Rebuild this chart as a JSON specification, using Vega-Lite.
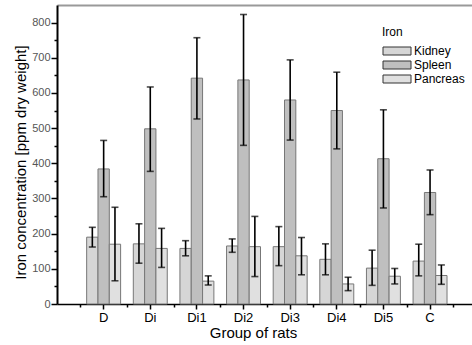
{
  "$schema": "https://vega.github.io/schema/vega-lite/v6.json",
  "width": 415,
  "height": 299,
  "autosize": {"type": "none"},
  "padding": {"left": 57, "top": 5, "right": 0, "bottom": 41},
  "background": "white",
  "config": {"view": {"stroke": null}, "font": "Liberation Sans", "axis": {"grid": false}},
  "data": {"values": [
    {"group": "D", "organ": "Kidney", "mean": 190, "lo": 162, "hi": 218},
    {"group": "D", "organ": "Spleen", "mean": 384, "lo": 305, "hi": 465},
    {"group": "D", "organ": "Pancreas", "mean": 170, "lo": 66, "hi": 275},
    {"group": "Di", "organ": "Kidney", "mean": 171, "lo": 116, "hi": 228},
    {"group": "Di", "organ": "Spleen", "mean": 498, "lo": 377, "hi": 617},
    {"group": "Di", "organ": "Pancreas", "mean": 158, "lo": 104, "hi": 215},
    {"group": "Di1", "organ": "Kidney", "mean": 158, "lo": 137, "hi": 180},
    {"group": "Di1", "organ": "Spleen", "mean": 642, "lo": 526, "hi": 757},
    {"group": "Di1", "organ": "Pancreas", "mean": 65, "lo": 54, "hi": 80},
    {"group": "Di2", "organ": "Kidney", "mean": 165, "lo": 147, "hi": 185},
    {"group": "Di2", "organ": "Spleen", "mean": 637, "lo": 451, "hi": 823},
    {"group": "Di2", "organ": "Pancreas", "mean": 163, "lo": 78, "hi": 249},
    {"group": "Di3", "organ": "Kidney", "mean": 163, "lo": 109, "hi": 220},
    {"group": "Di3", "organ": "Spleen", "mean": 580, "lo": 466, "hi": 694},
    {"group": "Di3", "organ": "Pancreas", "mean": 137, "lo": 83, "hi": 189},
    {"group": "Di4", "organ": "Kidney", "mean": 127, "lo": 83, "hi": 171},
    {"group": "Di4", "organ": "Spleen", "mean": 550, "lo": 441, "hi": 659},
    {"group": "Di4", "organ": "Pancreas", "mean": 57, "lo": 38, "hi": 76},
    {"group": "Di5", "organ": "Kidney", "mean": 102, "lo": 53, "hi": 153},
    {"group": "Di5", "organ": "Spleen", "mean": 413, "lo": 273, "hi": 552},
    {"group": "Di5", "organ": "Pancreas", "mean": 79, "lo": 57, "hi": 101},
    {"group": "C", "organ": "Kidney", "mean": 122, "lo": 80, "hi": 170},
    {"group": "C", "organ": "Spleen", "mean": 317, "lo": 254, "hi": 381},
    {"group": "C", "organ": "Pancreas", "mean": 81, "lo": 56, "hi": 111}
  ]},
  "layer": [
    {
      "mark": {"type": "bar", "stroke": "#777", "strokeWidth": 1},
      "encoding": {
        "x": {"field": "group", "type": "nominal", "sort": ["D", "Di", "Di1", "Di2", "Di3", "Di4", "Di5", "C"],
          "scale": {"paddingInner": 0, "paddingOuter": 0.45, "align": 0.556},
          "axis": {"orient": "bottom", "title": "Group of rats", "titleFontSize": 15, "titleFontWeight": "normal", "titleColor": "black", "titlePadding": 1, "titleX": 196,
            "labelAngle": 0, "labelFontSize": 13, "labelColor": "black", "labelPadding": 2,
            "tickSize": 5, "tickColor": "black", "tickWidth": 1.5, "domainColor": "black", "domainWidth": 1.5}},
        "xOffset": {"field": "organ", "type": "nominal", "sort": ["Kidney", "Spleen", "Pancreas"], "scale": {"paddingInner": 0, "paddingOuter": 0.56}},
        "y": {"field": "mean", "type": "quantitative", "scale": {"domain": [0, 850], "nice": false},
          "axis": {"orient": "left", "values": [0, 100, 200, 300, 400, 500, 600, 700, 800], "title": "Iron concentration [ppm dry weight]",
            "titleFontSize": 15, "titleFontWeight": "normal", "titleColor": "black", "titlePadding": 3, "titleY": 157,
            "labelFontSize": 11, "labelColor": "#555", "labelPadding": 1,
            "tickSize": 6, "tickColor": "black", "tickWidth": 1.5, "domainColor": "black", "domainWidth": 2}},
        "color": {"field": "organ", "type": "nominal",
          "scale": {"domain": ["Kidney", "Spleen", "Pancreas"], "range": ["#d6d6d6", "#bfbfbf", "#e0e0e0"]},
          "legend": {"orient": "none", "legendX": 325, "legendY": 22, "title": "Iron", "titleFontSize": 12, "titleFontWeight": "normal", "titleColor": "black", "titlePadding": 6,
            "labelFontSize": 12, "labelColor": "black", "symbolType": "M-2.8,-0.8H2.8V0.8H-2.8Z", "symbolSize": 100,
            "symbolStrokeColor": "#333", "symbolStrokeWidth": 1, "symbolOffset": 9, "labelOffset": 11, "rowPadding": 2}}
      }
    },
    {
      "mark": {"type": "rule", "color": "black", "strokeWidth": 1.6},
      "encoding": {
        "x": {"field": "group", "type": "nominal", "sort": ["D", "Di", "Di1", "Di2", "Di3", "Di4", "Di5", "C"],
          "axis": {"orient": "bottom", "tickBand": "extent", "labels": false, "title": null, "domain": false, "tickSize": 3, "tickColor": "black", "tickWidth": 1.5}},
        "xOffset": {"field": "organ", "type": "nominal", "sort": ["Kidney", "Spleen", "Pancreas"]},
        "y": {"field": "lo", "type": "quantitative",
          "axis": {"orient": "left", "values": [50, 150, 250, 350, 450, 550, 650, 750], "labels": false, "title": null, "domain": false, "tickSize": 3, "tickColor": "black", "tickWidth": 1.5}},
        "y2": {"field": "hi"}
      }
    },
    {
      "mark": {"type": "tick", "color": "black", "thickness": 1.6, "size": 7},
      "encoding": {
        "x": {"field": "group", "type": "nominal", "sort": ["D", "Di", "Di1", "Di2", "Di3", "Di4", "Di5", "C"],
          "axis": {"orient": "top", "ticks": false, "labels": false, "title": null, "domainColor": "#999", "domainWidth": 2}},
        "xOffset": {"field": "organ", "type": "nominal", "sort": ["Kidney", "Spleen", "Pancreas"]},
        "y": {"field": "lo", "type": "quantitative", "axis": null}
      }
    },
    {
      "mark": {"type": "tick", "color": "black", "thickness": 1.6, "size": 7},
      "encoding": {
        "x": {"field": "group", "type": "nominal", "sort": ["D", "Di", "Di1", "Di2", "Di3", "Di4", "Di5", "C"], "axis": null},
        "xOffset": {"field": "organ", "type": "nominal", "sort": ["Kidney", "Spleen", "Pancreas"]},
        "y": {"field": "hi", "type": "quantitative", "axis": null}
      }
    }
  ],
  "resolve": {"axis": {"x": "independent", "y": "independent"}}
}
